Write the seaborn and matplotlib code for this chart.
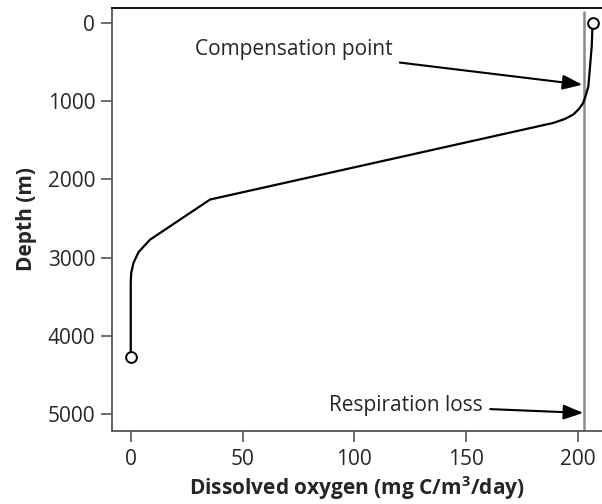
import matplotlib
matplotlib.use('Agg')
import matplotlib.pyplot as plt
import seaborn as sns

# profil oxigen vs adancime
oxygen = [206.6, 206.2, 204.7, 203.5, 202.4, 200.5, 197.9, 194.0, 189.0,
          35.5, 8.6, 3.5, 1.2, 0.2, 0.0, 0.0]
depth = [0, 300, 811, 930, 1023, 1100, 1173, 1230, 1279,
         2258, 2772, 2930, 3069, 3200, 3321, 4270]
respiration = 202.7
x_ticks = [0, 50, 100, 150, 200]
y_ticks = [0, 1000, 2000, 3000, 4000, 5000]

sns.set_style('ticks')
plt.rcParams['font.family'] = ['Open Sans', 'DejaVu Sans']
plt.rcParams['mathtext.fontset'] = 'custom'
plt.rcParams['mathtext.bf'] = 'Open Sans:bold'
plt.rcParams['mathtext.rm'] = 'Open Sans:bold'
plt.rcParams['mathtext.default'] = 'bf'

fig = plt.figure(figsize=(6.02, 5.04), dpi=100)
ax = fig.add_axes([0.186, 0.145, 0.814, 0.839])

ax.axvline(respiration, color='#8a8a8a', lw=1.8, ymin=0, ymax=0.99, zorder=1)
sns.lineplot(x=oxygen, y=depth, sort=False, estimator=None, color='black',
             lw=1.6, ax=ax, zorder=2)
sns.scatterplot(x=[oxygen[0], oxygen[-1]], y=[depth[0], depth[-1]], s=60,
                facecolor='white', edgecolor='black', linewidth=1.4, ax=ax, zorder=3)

ax.set_xlim(-8.4, 210.8)
ax.set_ylim(5217, -190)
ax.set_xticks(x_ticks)
ax.set_yticks(y_ticks)
ax.tick_params(labelsize=15, length=8, width=1.2, color='#555555', pad=4)
ax.tick_params(axis='x', pad=5)

for side in ['left', 'bottom']:
    ax.spines[side].set_color('#555555')
    ax.spines[side].set_linewidth(1.3)
ax.spines['top'].set_color('black')
ax.spines['top'].set_linewidth(1.3)
ax.spines['right'].set_visible(False)

ax.set_xlabel(r'Dissolved oxygen (mg C/m$^{3}$/day)', fontsize=15, fontweight='bold', labelpad=3)
ax.set_ylabel('Depth (m)', fontsize=15, fontweight='bold', labelpad=8)

ax.annotate('Compensation point', xy=(202.0, 790), xytext=(117.0, 342),
            fontsize=15, ha='right', va='center',
            arrowprops=dict(arrowstyle='-|>,head_length=0.8,head_width=0.3',
                            color='black', lw=1.5, shrinkA=3, shrinkB=0))
ax.annotate('Respiration loss', xy=(202.4, 4987), xytext=(157.5, 4894),
            fontsize=15, ha='right', va='center',
            arrowprops=dict(arrowstyle='-|>,head_length=0.8,head_width=0.3',
                            color='black', lw=1.5, shrinkA=3, shrinkB=0))

plt.savefig('out.png', dpi=100)
